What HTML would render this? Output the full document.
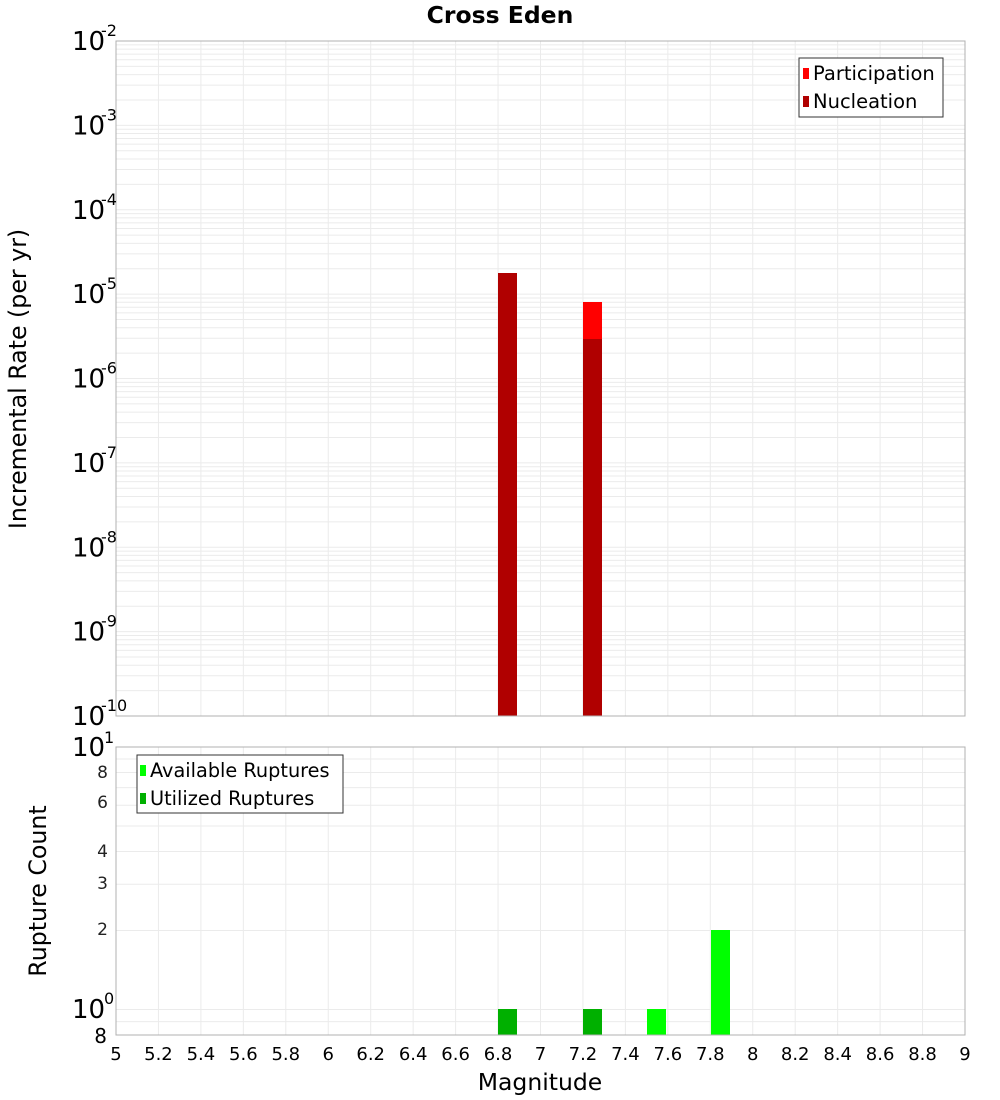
<!DOCTYPE html>
<html><head><meta charset="utf-8"><style>
body{margin:0;background:#fff}
svg{display:block;font-family:"DejaVu Sans","Liberation Sans",sans-serif}
</style></head><body>
<svg id="s" width="1000" height="1100" xmlns="http://www.w3.org/2000/svg">
<rect width="1000" height="1100" fill="#fff"/>
<g id="grid"></g>
<text x="500" y="23" font-size="23.5" font-weight="bold" text-anchor="middle">Cross Eden</text>
<rect x="498" y="273" width="19" height="443" fill="#b00000"/>
<rect x="583" y="302" width="19" height="37" fill="#ff0000"/>
<rect x="583" y="339" width="19" height="377" fill="#b00000"/>
<rect x="498" y="1009" width="19" height="26" fill="#00b000"/>
<rect x="583" y="1009" width="19" height="26" fill="#00b000"/>
<rect x="647" y="1009" width="19" height="26" fill="#00ff00"/>
<rect x="711" y="930" width="19" height="105" fill="#00ff00"/>
<rect x="116" y="41" width="849" height="675" fill="none" stroke="#b0b0b0"/>
<rect x="116" y="747" width="849" height="288" fill="none" stroke="#b0b0b0"/>
<g id="labels"></g>
<rect x="799" y="58" width="144" height="59" fill="#fff" stroke="#333"/>
<rect x="803" y="68" width="6" height="11" fill="#ff0000"/>
<text x="813" y="80" font-size="19.5">Participation</text>
<rect x="803" y="96" width="6" height="11" fill="#b00000"/>
<text x="813" y="108" font-size="19.5">Nucleation</text>
<rect x="137" y="755" width="206" height="58" fill="#fff" stroke="#333"/>
<rect x="140" y="765" width="6" height="11" fill="#00ff00"/>
<text x="150" y="777" font-size="19.3">Available Ruptures</text>
<rect x="140" y="793" width="6" height="11" fill="#00b000"/>
<text x="150" y="805" font-size="19.3">Utilized Ruptures</text>
<text transform="translate(26,379) rotate(-90)" font-size="23.7" text-anchor="middle">Incremental Rate (per yr)</text>
<text transform="translate(46,891) rotate(-90)" font-size="23.7" text-anchor="middle">Rupture Count</text>
<text x="540" y="1090" font-size="23.5" text-anchor="middle">Magnitude</text>
</svg>
<script>
var NS="http://www.w3.org/2000/svg",g=document.getElementById("grid"),L=document.getElementById("labels");
function ln(x1,y1,x2,y2){var l=document.createElementNS(NS,"line");l.setAttribute("x1",x1);l.setAttribute("y1",y1);l.setAttribute("x2",x2);l.setAttribute("y2",y2);l.setAttribute("stroke","#ebebeb");l.setAttribute("stroke-width","1");g.appendChild(l);}
function tx(x,y,s,fs,anc,p){var t=document.createElementNS(NS,"text");t.setAttribute("x",x);t.setAttribute("y",y);t.setAttribute("font-size",fs);t.setAttribute("text-anchor",anc||"start");if(p)t.setAttribute("fill",p);t.textContent=s;L.appendChild(t);return t;}
for(var i=1;i<20;i++){var x=116+i*42.45;ln(x,41,x,716);ln(x,747,x,1035);}
for(var d=-10;d<-2;d++)for(var k=1;k<10;k++){var y=716-(d+10+Math.log10(k))*84.375;if(y>41&&y<716)ln(116,y,965,y);}
var vs=[0.9,1,2,3,4,5,6,7,8,9];
vs.forEach(function(v){var y=1035-(Math.log10(v)+0.09691)*262.56;ln(116,y,965,y);});
for(var d=-2;d>=-10;d--){var y=716-(d+10)*84.375;tx(72,y+9,"10",26,"start","#000");tx(101,y-5,String(d),16,"start","#000");}
tx(72,756,"10",26);tx(104,743,"1",16);
tx(72,1018,"10",26);tx(104,1004,"0",16);
tx(107,1043,"8",20,"end");
[[8,778],[6,808],[4,857],[3,889],[2,935]].forEach(function(a){tx(108,a[1],String(a[0]),17,"end","#222");});
for(var i=0;i<=20;i++){var v=5+i*0.2;var s=(Math.round(v*10)/10).toString();tx(116+i*42.45,1060,s,18,"middle");}
</script>
</body></html>
